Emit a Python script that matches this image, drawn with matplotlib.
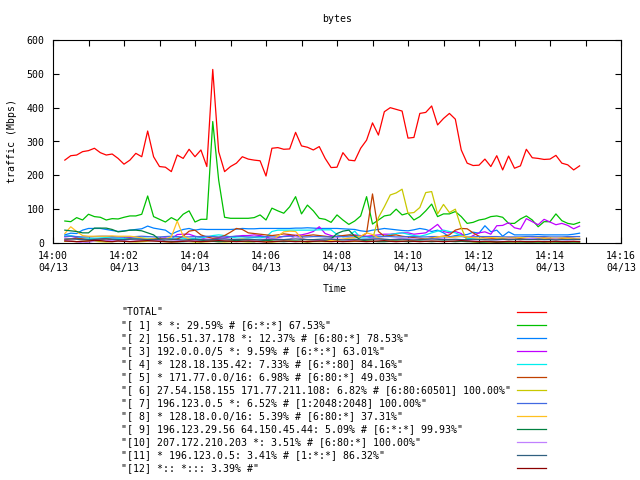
import numpy as np
import matplotlib
matplotlib.use("Agg")
import matplotlib.pyplot as plt
from matplotlib.lines import Line2D
from matplotlib.ticker import MultipleLocator, FuncFormatter

# samples every 10 s, first one at 14:00:20
t_start = 20
t_step = 10

labels = [
    '"TOTAL"',
    '"[ 1] * *: 29.59% # [6:*:*] 67.53%"',
    '"[ 2] 156.51.37.178 *: 12.37% # [6:80:*] 78.53%"',
    '"[ 3] 192.0.0.0/5 *: 9.59% # [6:*:*] 63.01%"',
    '"[ 4] * 128.18.135.42: 7.33% # [6:*:80] 84.16%"',
    '"[ 5] * 171.77.0.0/16: 6.98% # [6:80:*] 49.03%"',
    '"[ 6] 27.54.158.155 171.77.211.108: 6.82% # [6:80:60501] 100.00%"',
    '"[ 7] 196.123.0.5 *: 6.52% # [1:2048:2048] 100.00%"',
    '"[ 8] * 128.18.0.0/16: 5.39% # [6:80:*] 37.31%"',
    '"[ 9] 196.123.29.56 64.150.45.44: 5.09% # [6:*:*] 99.93%"',
    '"[10] 207.172.210.203 *: 3.51% # [6:80:*] 100.00%"',
    '"[11] * 196.123.0.5: 3.41% # [1:*:*] 86.32%"',
    '"[12] *:: *::: 3.39% #"',
]

colors = ["#ff0000", "#00c000", "#0080ff", "#c000ff", "#00eeee", "#c04000",
          "#c8c800", "#4169e1", "#ffc020", "#008040", "#c080ff", "#306080",
          "#8b0000"]

total = [245, 258, 260, 270, 273, 280, 267, 260, 263, 250,
         233, 245, 265, 255, 331, 255, 226, 224, 211, 260,
         250, 277, 255, 275, 226, 513, 270, 211, 226, 236,
         255, 248, 245, 243, 198, 280, 282, 277, 278, 327,
         287, 283, 275, 285, 250, 223, 224, 267, 245, 243,
         280, 304, 355, 319, 388, 400, 395, 390, 310, 312,
         383, 386, 405, 349, 368, 383, 366, 275, 236, 229,
         230, 248, 226, 258, 216, 257, 221, 228, 277, 252,
         250, 247, 248, 259, 236, 231, 216, 228]

s1 = [65, 63, 75, 68, 85, 78, 76, 68, 72, 71,
      76, 80, 80, 85, 139, 78, 70, 62, 75, 66,
      85, 95, 62, 70, 70, 359, 186, 76, 73, 73,
      73, 73, 75, 83, 68, 103, 95, 88, 107, 137,
      86, 112, 95, 73, 70, 61, 83, 68, 55, 65,
      80, 137, 56, 68, 80, 83, 100, 83, 88, 68,
      78, 95, 115, 78, 86, 86, 93, 78, 58, 61,
      68, 71, 78, 80, 76, 58, 58, 71, 80, 68,
      48, 63, 63, 86, 66, 58, 55, 61]

s2 = [24, 29, 28, 38, 43, 43, 43, 40, 37, 34,
      36, 38, 40, 42, 50, 44, 41, 38, 26, 34,
      40, 43, 38, 41, 40, 40, 40, 40, 40, 41,
      43, 42, 42, 43, 43, 43, 43, 43, 43, 44,
      44, 45, 44, 43, 43, 43, 43, 42, 41, 40,
      36, 34, 38, 40, 43, 41, 39, 37, 36, 39,
      43, 40, 34, 38, 30, 18, 22, 24, 25, 32,
      29, 51, 33, 38, 20, 33, 24, 24, 24, 24,
      25, 24, 24, 24, 24, 24, 26, 29]

s3 = [18, 20, 16, 12, 8, 10, 12, 14, 15, 14,
      15, 16, 14, 12, 10, 12, 14, 15, 12, 25,
      26, 26, 20, 16, 10, 12, 14, 15, 18, 20,
      22, 22, 24, 22, 18, 12, 16, 20, 22, 23,
      24, 28, 34, 48, 28, 22, 18, 20, 22, 24,
      22, 20, 22, 24, 26, 26, 28, 30, 30, 26,
      28, 30, 42, 55, 34, 30, 34, 28, 12, 22,
      30, 33, 26, 51, 52, 60, 45, 41, 72, 63,
      54, 70, 62, 54, 58, 52, 42, 50]

s4 = [20, 22, 18, 15, 14, 14, 15, 16, 15, 14,
      14, 13, 14, 15, 14, 12, 12, 13, 14, 15,
      14, 13, 14, 15, 18, 22, 24, 22, 18, 15,
      14, 15, 16, 15, 18, 34, 38, 38, 38, 38,
      38, 38, 38, 39, 39, 39, 25, 18, 22, 35,
      15, 14, 18, 20, 20, 25, 28, 30, 26, 22,
      20, 24, 30, 35, 38, 34, 30, 22, 14, 12,
      12, 11, 12, 12, 12, 11, 12, 12, 12, 12,
      12, 12, 12, 12, 12, 12, 12, 12]

s5 = [10, 12, 14, 12, 10, 8, 10, 12, 10, 8,
      10, 12, 10, 8, 10, 12, 14, 12, 10, 12,
      20, 35, 38, 24, 18, 14, 16, 22, 32, 43,
      40, 30, 28, 26, 24, 22, 24, 27, 25, 22,
      20, 22, 24, 22, 20, 18, 20, 22, 24, 22,
      18, 29, 145, 34, 20, 22, 24, 20, 18, 16,
      14, 12, 15, 18, 20, 24, 38, 43, 42, 30,
      20, 15, 14, 12, 12, 14, 15, 13, 12, 14,
      14, 15, 13, 12, 14, 15, 14, 12]

s6 = [5, 6, 4, 5, 6, 5, 4, 3, 4, 5,
      5, 4, 3, 4, 5, 6, 5, 4, 3, 4,
      5, 4, 3, 3, 4, 5, 4, 3, 4, 5,
      4, 3, 4, 5, 4, 3, 4, 5, 6, 5,
      4, 3, 4, 5, 4, 5, 6, 5, 4, 5,
      6, 8, 10, 75, 107, 142, 148, 159, 88, 90,
      105, 149, 152, 86, 114, 90, 100, 45, 6, 3,
      3, 3, 3, 3, 3, 3, 3, 3, 3, 3,
      3, 3, 3, 3, 3, 3, 3, 3]

s7 = [20, 20, 19, 18, 18, 19, 20, 20, 19, 18,
      18, 18, 19, 20, 19, 18, 18, 19, 20, 19,
      18, 18, 19, 19, 20, 19, 18, 18, 19, 20,
      19, 18, 18, 19, 19, 18, 18, 19, 20, 19,
      18, 18, 19, 19, 18, 18, 19, 19, 18, 18,
      19, 19, 18, 18, 19, 19, 18, 18, 19, 19,
      18, 18, 19, 19, 18, 18, 19, 19, 18, 18,
      19, 19, 19, 19, 18, 18, 18, 18, 19, 19,
      19, 19, 18, 18, 18, 19, 19, 19]

s8 = [28, 48, 34, 22, 20, 20, 20, 20, 21, 20,
      20, 20, 18, 15, 12, 12, 10, 12, 18, 65,
      20, 12, 8, 5, 4, 5, 6, 5, 8, 10,
      12, 10, 8, 6, 5, 8, 20, 33, 35, 34,
      14, 8, 5, 4, 6, 8, 10, 12, 14, 16,
      20, 30, 25, 15, 10, 8, 6, 5, 5, 8,
      10, 12, 14, 18, 20, 16, 18, 20, 18, 16,
      14, 15, 16, 15, 15, 14, 15, 16, 15, 14,
      15, 14, 15, 14, 15, 14, 13, 14]

s9 = [38, 36, 34, 30, 30, 44, 44, 44, 40, 33,
      35, 38, 38, 36, 30, 24, 10, 6, 5, 4,
      4, 5, 6, 8, 6, 5, 4, 5, 6, 8,
      6, 5, 4, 6, 8, 6, 5, 4, 5, 6,
      5, 4, 5, 6, 8, 12, 28, 35, 38, 20,
      10, 6, 5, 4, 4, 5, 6, 5, 4, 5,
      6, 5, 4, 5, 6, 5, 4, 5, 4, 4,
      3, 3, 4, 3, 3, 3, 4, 3, 3, 3,
      3, 3, 4, 3, 3, 3, 3, 3]

s10 = [8, 6, 4, 0, 2, 6, 8, 8, 7, 6,
       8, 10, 9, 8, 7, 6, 8, 10, 9, 8,
       6, 5, 8, 10, 12, 10, 8, 9, 10, 11,
       10, 9, 8, 10, 12, 14, 12, 10, 11, 20,
       12, 10, 9, 8, 10, 12, 11, 10, 8, 9,
       10, 12, 14, 12, 11, 10, 12, 14, 13, 12,
       11, 10, 12, 13, 12, 11, 10, 9, 8, 9,
       10, 11, 10, 9, 10, 12, 11, 10, 12, 14,
       12, 10, 11, 12, 10, 9, 10, 11]

s11 = [12, 12, 11, 10, 10, 11, 12, 12, 11, 10,
       10, 11, 12, 11, 10, 10, 11, 12, 11, 10,
       9, 10, 11, 10, 9, 10, 11, 12, 11, 10,
       10, 11, 10, 9, 10, 11, 10, 10, 11, 12,
       11, 10, 10, 11, 12, 11, 10, 9, 10, 11,
       10, 10, 11, 12, 11, 10, 10, 11, 10, 9,
       10, 11, 12, 11, 10, 10, 11, 10, 10, 11,
       10, 10, 9, 10, 11, 10, 10, 11, 10, 10,
       11, 10, 10, 9, 10, 10, 11, 10]

s12 = [6, 5, 4, 5, 6, 8, 7, 5, 4, 6,
       5, 4, 5, 6, 7, 6, 5, 4, 3, 4,
       5, 6, 5, 4, 5, 6, 7, 6, 5, 4,
       5, 6, 5, 4, 3, 4, 5, 6, 5, 4,
       5, 4, 5, 6, 5, 4, 5, 4, 5, 6,
       5, 4, 5, 6, 7, 5, 4, 5, 6, 5,
       4, 5, 6, 5, 4, 5, 6, 7, 6, 5,
       4, 5, 4, 3, 4, 5, 4, 5, 4, 4,
       5, 4, 4, 5, 4, 4, 5, 4]

series = [total, s1, s2, s3, s4, s5, s6, s7, s8, s9, s10, s11, s12]

plt.rcParams['font.family'] = ['DejaVu Sans Mono']
plt.rcParams['font.size'] = 7.1

W, H = 640, 480
fig = plt.figure(figsize=(6.4, 4.8), dpi=100)
ax = fig.add_axes([53 / W, 1 - 243 / H, (621 - 53) / W, (243 - 40) / H])

for s, c in zip(series, colors):
    t = (t_start + t_step * np.arange(len(s))) / 60.0
    ax.plot(t, s, color=c, lw=0.9)

ax.set_xlim(0, 16)
ax.set_ylim(0, 600)
ax.xaxis.set_major_locator(MultipleLocator(1))
ax.yaxis.set_major_locator(MultipleLocator(100))


def xfmt(v, pos):
    m = int(round(v))
    if m % 2:
        return ""
    return "14:%02d\n04/13" % m


ax.xaxis.set_major_formatter(FuncFormatter(xfmt))
ax.tick_params(direction='in', length=4, width=0.8, top=True, right=True, pad=6)
for sp in ax.spines.values():
    sp.set_linewidth(0.8)

fig.text(337 / W, 1 - 19 / H, "bytes", ha='center', va='center')
fig.text(12 / W, 1 - 141 / H, "traffic (Mbps)", rotation=90, ha='center', va='center')
fig.text(335 / W, 1 - 289 / H, "Time", ha='center', va='center')

# key below the plot: text left, line sample on the right
for i, (lab, c) in enumerate(zip(labels, colors)):
    y = 1 - (312 + 13 * i) / H
    fig.text(121 / W, y, lab, ha='left', va='center')
    fig.add_artist(Line2D([517 / W, 546 / W], [y, y], color=c, lw=0.9,
                          transform=fig.transFigure))

fig.savefig("out.png", dpi=100)
